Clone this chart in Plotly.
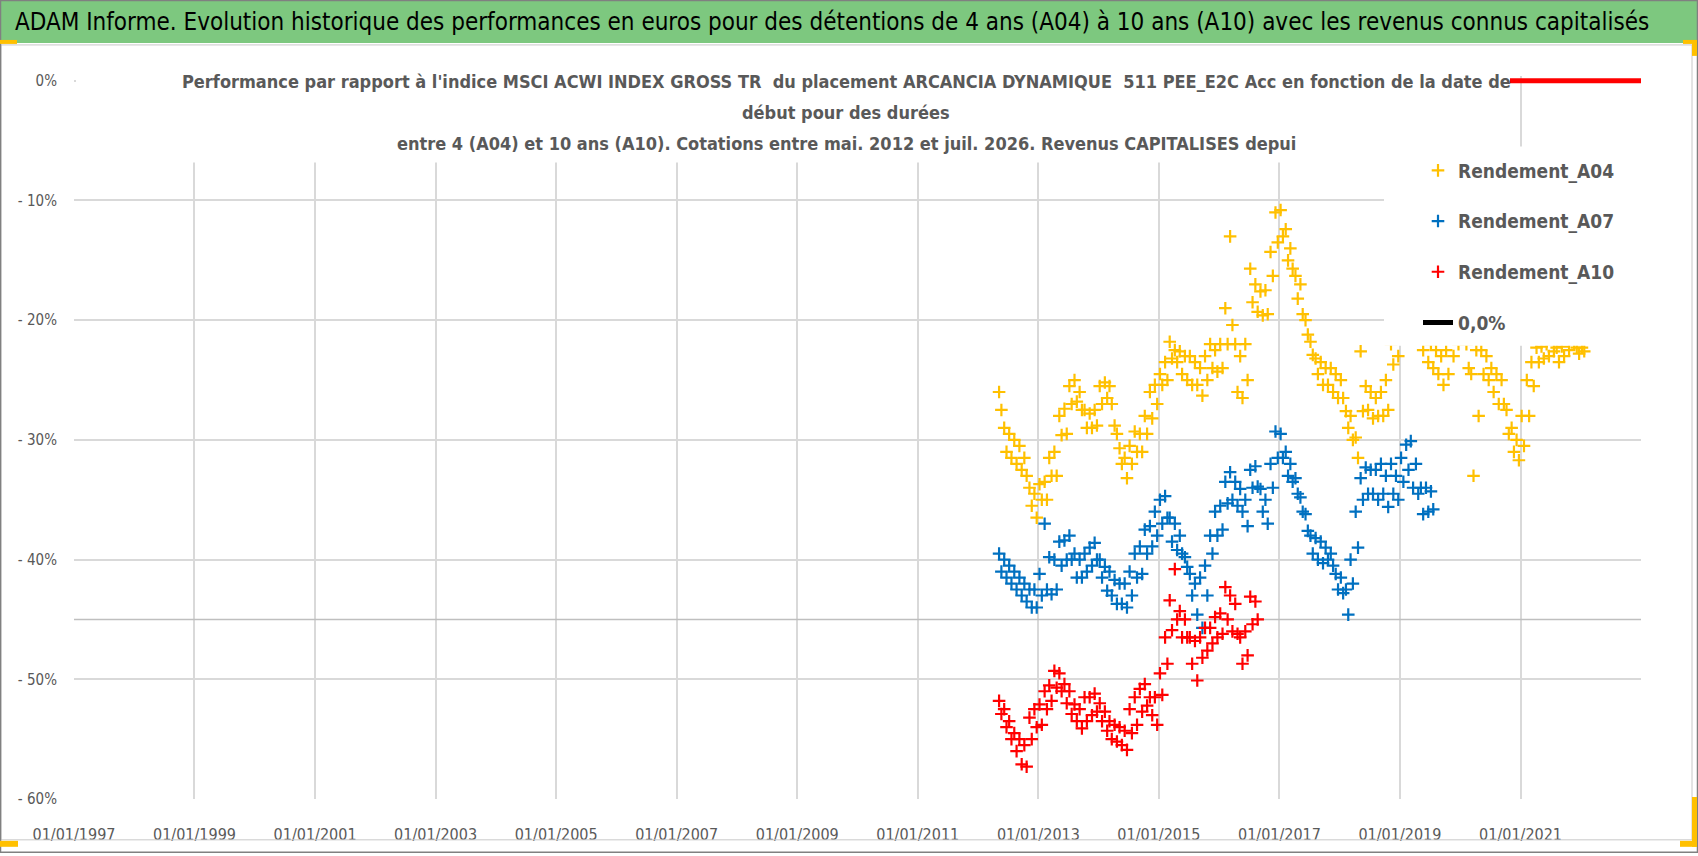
import pandas as pd
import plotly.graph_objects as go

# monthly readings, high and low edge of each point cloud, in %
a04_start = '2012-05'
a04_hi = [-26, -29, -29.5, -30, -30.5, -31.5, -34, -34.5,
          -33.7, -33.5, -31.5, -31, -28, -27.4, -25.5, -25, -26, -27.5, -27.8, -27.5,
          -25.5, -25.2, -25.5, -28.8, -30.7, -31.5, -30.5, -29.3, -29.5, -28, -26, -25.4,
          -24.5, -23.5, -21.8, -22.5, -22.6, -23, -23, -23.5, -24, -23, -22, -22.5,
          -22, -19, -13, -22, -23, -22, -15.7, -17, -17.6, -17.5, -14.3, -11,
          -10.8, -12.4, -14, -16.3, -17, -20, -21.8, -23.2, -23.5, -24, -24, -24.5,
          -25, -27.6, -28, -29.8, -22.6, -25.5, -26, -26.5, -26, -25, -22, -21,
          -19, -18, -17.5, -18, -20, -21.5, -22, -22.5, -23, -22.5, -21, -20,
          -19, -22, -24.5, -22.5, -22.5, -23, -24, -24.5, -25, -27.5, -29, -30,
          -28, -25, -23.5, -22.3, -22.2, -22, -21.5, -22.3, -22.2, -21.5, -21, -22.3,
          -22.3]
a04_lo = [-27.5, -31, -31.5, -32, -32.5, -33, -35.5, -36.5,
          -35, -35, -33, -33, -29.6, -29.5, -27, -26.8, -27.5, -29, -29, -28.8,
          -27, -26.5, -27, -29.5, -32, -33.2, -32, -31, -31, -29.5, -28.2, -27,
          -25.4, -25, -23.2, -23.5, -24.5, -25, -25.4, -25.4, -26.3, -25, -24, -24.3,
          -24, -22, -20.4, -26, -26.5, -25, -18.5, -19.3, -19.6, -19.5, -16.3, -13.5,
          -13, -15, -15.7, -18.2, -19.5, -21.2, -22.9, -24.5, -25.4, -25.4, -26, -26.5,
          -26.5, -29, -30, -31.5, -27.6, -27.5, -28.2, -28, -28, -27.5, -23.7, -23,
          -21, -20, -19.5, -21, -22.5, -23.5, -24, -24.5, -25.4, -24.5, -23, -22,
          -21.5, -24, -33, -28, -24.5, -25, -26, -27, -27, -29.5, -31, -31.7,
          -30.5, -28, -25.5, -23.5, -23.2, -23, -22.6, -23.5, -23, -22.5, -22, -22.8,
          -22.6]

a07_start = '2012-05'
a07_hi = [-39.5, -40, -40.5, -41, -41.5, -42, -42.5, -42.5,
          -41.2, -37, -39.8, -40, -38.5, -38.4, -38, -39.5, -40, -39.5, -39, -38.6,
          -40, -40.6, -41, -41.7, -42, -42, -41, -39.5, -38.9, -37.5, -37.2, -36,
          -35, -34.7, -36.5, -37, -38, -39.8, -41.2, -42, -41.5, -40.5, -38, -36,
          -35.5, -33.5, -32.7, -33.5, -34.1, -35, -32.5, -32.2, -34.1, -35, -32, -29.3,
          -29.5, -31, -32, -33.2, -34.8, -36.2, -38, -38.2, -38.5, -39, -39.5, -41.2,
          -41.5, -42.5, -40, -36, -33.2, -32.3, -32.5, -32.5, -32, -33, -32, -33,
          -31.5, -30.4, -30.1, -32, -34, -34, -34.3]
a07_lo = [-41, -41.5, -42, -42.5, -43, -43.5, -44, -44,
          -43, -42.5, -42.9, -42.5, -40.5, -40, -40, -41.5, -41.5, -41, -40.5, -40,
          -41.5, -42.6, -43, -43.7, -43.7, -44, -43, -41.5, -41.2, -39.5, -38.9, -38,
          -37, -36.5, -38.5, -39.2, -39.5, -40.6, -43, -44.6, -45.7, -43, -39.5, -38,
          -37.5, -35.3, -35, -35.5, -36, -37.2, -34, -33.9, -36, -37, -34, -31.5,
          -31.5, -33, -33.5, -34.5, -36, -37.6, -39.5, -40, -40.3, -40, -40.5, -42.5,
          -42.8, -44.6, -42, -39, -35, -34.5, -34.5, -35, -34.5, -35.6, -34.5, -35,
          -33.5, -32.5, -34, -34.5, -36.2, -36, -35.8]

a10_start = '2012-05'
a10_hi = [-51.8, -52.5, -53.5, -54.5, -55, -55.5, -53.2, -52.5,
          -52.1, -51, -50.5, -49.3, -49.5, -50.4, -51, -52.1, -52.5, -51.5, -51.5, -51.2,
          -52, -52.7, -53.5, -53.8, -54, -54.3, -52.5, -51.5, -50.8, -50.4, -51.5, -51.5,
          -49.5, -46.5, -43.4, -40.8, -44.3, -45, -46.5, -46.8, -46.5, -45.7, -45.7, -44.8,
          -44.5, -42.3, -43, -43.7, -46.5, -46, -43.1, -43.5]
a10_lo = [-52.9, -54, -55, -56, -57.1, -57.3, -55, -54,
          -53.8, -52.5, -51.8, -50.7, -51, -52, -52.9, -53.5, -54.1, -53.5, -53, -52.7,
          -53.5, -54.3, -55, -55.2, -55.5, -55.9, -54.5, -53.8, -52.7, -52.2, -53, -53.8,
          -51.3, -48.7, -45.9, -45, -46.5, -46.5, -48.7, -50.1, -48.2, -47.6, -47, -46.5,
          -46.2, -45, -46, -46.2, -48.7, -48, -45.4, -45]

zero_x = ['2012-05-15', '2023-01-01']
zero_y = [0, 0]
ref_x = ['1997-01-01', '2023-01-01']
ref_y = [-45, -45]

x_ticks = ['1997-01-01', '1999-01-01', '2001-01-01', '2003-01-01', '2005-01-01', '2007-01-01',
           '2009-01-01', '2011-01-01', '2013-01-01', '2015-01-01', '2017-01-01', '2019-01-01',
           '2021-01-01']
y_ticks = [0, -10, -20, -30, -40, -50, -60]
y_labels = ['0%', '- 10%', '- 20%', '- 30%', '- 40%', '- 50%', '- 60%']

header = ("ADAM Informe. Evolution historique des performances en euros pour des détentions "
          "de 4 ans (A04) à 10 ans (A10) avec les revenus connus capitalisés")
subtitle = ["Performance par rapport à l'indice MSCI ACWI INDEX GROSS TR&nbsp; du placement ARCANCIA "
            "DYNAMIQUE&nbsp; 511 PEE_E2C Acc en fonction de la date de",
            "début pour des durées",
            "entre 4 (A04) et 10 ans (A10). Cotations entre mai. 2012 et juil. 2026. Revenus CAPITALISES depui"]

NARROW = "Liberation Sans Narrow, Arial Narrow, DejaVu Sans Condensed, sans-serif"
W, H = 1698, 856
# pixel frame: 0% sits at y=81, -60% at y=802, 1997 at x=74, 2023 at x=1641
PL, PR, Y0, PB = 74, 1641, 81, 802
Y_TOP = 0.4                     # a little headroom so the 0 % line is not clipped
PT = Y0 - Y_TOP * (PB - Y0) / 60


def fx(px):
    return (px - PL) / (PR - PL)


def fy(py):
    return (PB - py) / (PB - PT)


def cloud(start, hi, lo):
    months = pd.date_range(start, periods=len(hi), freq='MS')
    # high edge read early in the month, low edge late in the month
    return list(months + pd.Timedelta(days=7)) + list(months + pd.Timedelta(days=21)), hi + lo


fig = go.Figure()
fig.add_trace(go.Scatter(x=ref_x, y=ref_y, mode='lines', line=dict(color='#BFBFBF', width=1.5),
                         showlegend=False, hoverinfo='skip'))
fig.add_trace(go.Scatter(x=zero_x, y=zero_y, mode='lines', line=dict(color='#FF0000', width=5),
                         showlegend=False, hoverinfo='skip'))

for name, start, hi, lo, col in [('Rendement_A04', a04_start, a04_hi, a04_lo, '#FFC000'),
                                 ('Rendement_A07', a07_start, a07_hi, a07_lo, '#0070C0'),
                                 ('Rendement_A10', a10_start, a10_hi, a10_lo, '#FF0000')]:
    xs, ys = cloud(start, hi, lo)
    fig.add_trace(go.Scatter(x=xs, y=ys, mode='markers', name=name, legendgroup=name,
                             marker=dict(symbol='cross-thin', size=9, color=col,
                                         line=dict(color=col, width=2.2))))

fig.add_trace(go.Scatter(x=[None], y=[None], mode='lines', name='0,0%', legendgroup='zero',
                         line=dict(color='black', width=5)))

shapes = [
    dict(type='rect', xref='paper', yref='paper', x0=fx(0), x1=fx(W), y0=fy(43), y1=fy(0),
         fillcolor='#7DC87F', line=dict(width=0), layer='above'),
    dict(type='rect', xref='paper', yref='paper', x0=fx(76), x1=fx(1510), y0=fy(163), y1=fy(62),
         fillcolor='white', line=dict(width=0), layer='above'),
    dict(type='rect', xref='paper', yref='paper', x0=fx(1384), x1=fx(1650), y0=fy(347), y1=fy(147),
         fillcolor='white', line=dict(width=0), layer='above'),
    dict(type='rect', xref='paper', yref='paper', x0=fx(1), x1=fx(1692), y0=fy(843), y1=fy(45),
         line=dict(color='#C8C8C8', width=1)),
    dict(type='rect', xref='paper', yref='paper', x0=fx(0.5), x1=fx(W - 0.5), y0=fy(H - 0.5), y1=fy(0.5),
         line=dict(color='#808080', width=1.5)),
]
for x0, y0, x1, y1 in [(0, 40, 17, 44), (1683, 40, 1697, 44), (1692, 40, 1697, 56),
                       (1692, 800, 1697, 850), (1680, 844, 1697, 850), (0, 844, 18, 850)]:
    shapes.append(dict(type='rect', xref='paper', yref='paper', x0=fx(x0), x1=fx(x1),
                       y0=fy(y1), y1=fy(y0), fillcolor='#FFC000', line=dict(width=0), layer='above'))

annotations = [
    dict(text=header, xref='paper', yref='paper', x=fx(13), y=fy(22), xanchor='left', yanchor='middle',
         showarrow=False, font=dict(family=NARROW, size=24, color='black')),
]
for line, ypx in zip(subtitle, [82, 113, 144]):
    annotations.append(dict(text='<b>' + line + '</b>', xref='paper', yref='paper', x=fx(846), y=fy(ypx),
                            xanchor='center', yanchor='middle', showarrow=False,
                            font=dict(family=NARROW, size=18, color='#595959')))

fig.update_layout(
    width=W, height=H,
    margin=dict(l=PL, r=W - PR, t=PT, b=H - PB),
    paper_bgcolor='white', plot_bgcolor='white',
    shapes=shapes, annotations=annotations,
    legend=dict(x=fx(1418), y=fy(152), xanchor='left', yanchor='top', bgcolor='rgba(0,0,0,0)',
                font=dict(family=NARROW, size=19, color='#595959', weight='bold'),
                tracegroupgap=23),
)
fig.update_xaxes(type='date', range=['1997-01-01', '2023-01-01'], tickvals=x_ticks,
                 tickformat='%d/%m/%Y', showgrid=True, gridcolor='#D9D9D9', gridwidth=1.5,
                 showline=False, zeroline=False, ticks='outside', ticklen=21, tickcolor='rgba(0,0,0,0)',
                 tickfont=dict(family=NARROW, size=16, color='#595959'))
fig.update_yaxes(range=[-60, Y_TOP], tickvals=y_ticks, ticktext=y_labels, showgrid=True,
                 gridcolor='#D9D9D9', gridwidth=1.5, showline=False, zeroline=False,
                 ticks='outside', ticklen=13, tickcolor='rgba(0,0,0,0)',
                 tickfont=dict(family=NARROW, size=15, color='#595959'))

fig.write_html("out.html", config={'displayModeBar': False},
               post_script="document.body.style.margin='0';document.body.style.overflow='hidden';")
